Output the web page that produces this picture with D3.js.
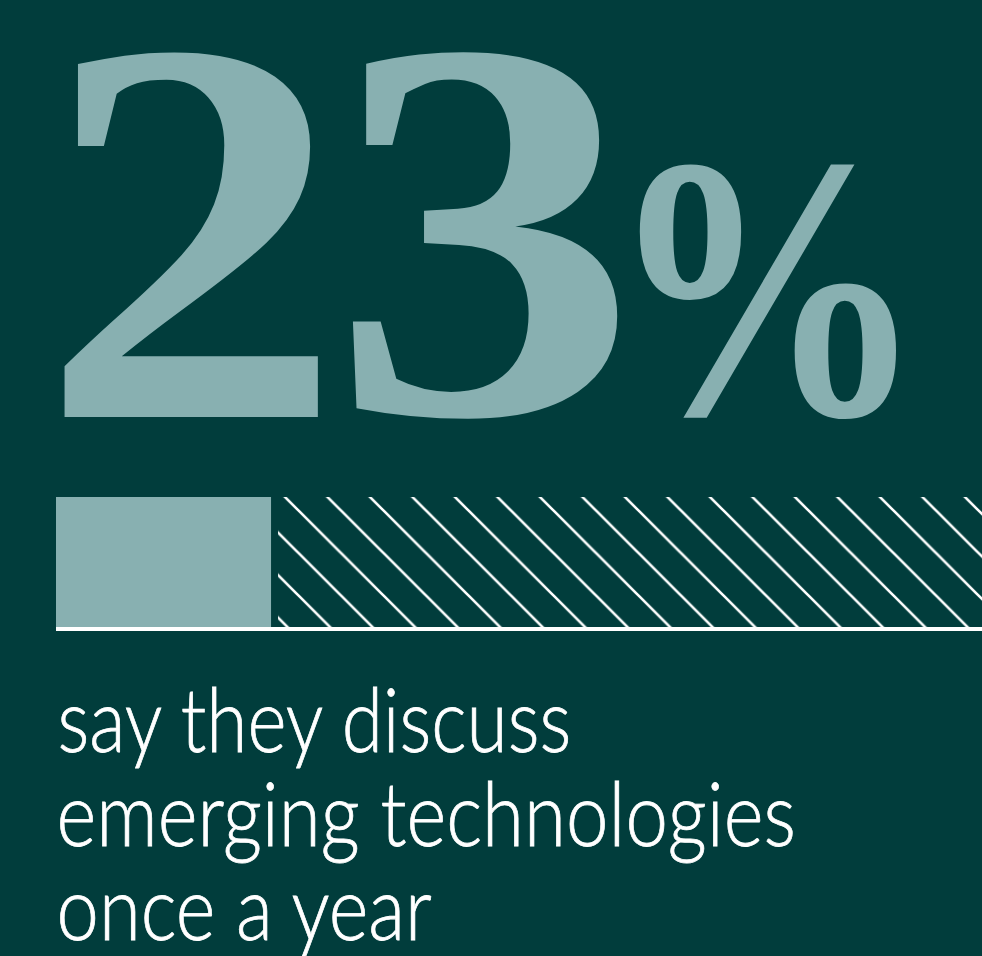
<!DOCTYPE html>
<html>
<head>
<meta charset="utf-8">
<script src="https://cdn.jsdelivr.net/npm/d3@7"></script>
<style>
  html, body { margin: 0; padding: 0; background: #013d3c; }
  svg { display: block; }
</style>
</head>
<body>
<svg id="chart" width="982" height="956"></svg>
<script>
// Share of respondents (percent) and the whole it is measured against
const shareValue = [23];
const scaleMax = [100];
const captionLines = ["say they discuss", "emerging technologies", "once a year"];

const W = 982, H = 956;
const BG = "#013d3c", ACCENT = "#88b0b1", WHITE = "#ffffff";

const svg = d3.select("#chart");
svg.append("rect").attr("width", W).attr("height", H).attr("fill", BG);

// Canvas context used to read ink bounds of glyphs for fitting
const ctx = document.createElement("canvas").getContext("2d");
function ink(str, font) {
  ctx.font = font;
  const m = ctx.measureText(str);
  return { left: -m.actualBoundingBoxLeft, right: m.actualBoundingBoxRight,
           top: -m.actualBoundingBoxAscent, bottom: m.actualBoundingBoxDescent };
}

// ---- Headline figure, built from the value ----
const headline = `${shareValue[0]}%`;
const serifFamily = "'Liberation Serif', 'DejaVu Serif', serif";
const baseSize = 400;
const glyphBoxes = [ // ink boxes for each glyph of the headline
  { x0: 58, x1: 325, y0: 47, y1: 417 },
  { x0: 349, x1: 619, y0: 47, y1: 422 },
  { x0: 637, x1: 896, y0: 162, y1: 420 }
];
const headG = svg.append("g").attr("class", "headline");
Array.from(headline).forEach((ch, i) => {
  const b = glyphBoxes[i];
  const m = ink(ch, `bold ${baseSize}px ${serifFamily}`);
  const sx = (b.x1 - b.x0) / (m.right - m.left);
  const sy = (b.y1 - b.y0) / (m.bottom - m.top);
  const tx = b.x0 - m.left * sx, ty = b.y0 - m.top * sy;
  headG.append("text")
    .attr("transform", `translate(${tx},${ty}) scale(${sx},${sy})`)
    .attr("font-family", serifFamily)
    .attr("font-weight", "bold")
    .attr("font-size", baseSize)
    .attr("fill", ACCENT)
    .text(ch);
});

// ---- Bar ----
const x = d3.scaleLinear().domain([0, scaleMax[0]]).range([56, 991]);
const barTop = 497, barBottom = 628;

const defs = svg.append("defs");
const step = 42.5;
const pat = defs.append("pattern")
  .attr("id", "hatch")
  .attr("patternUnits", "userSpaceOnUse")
  .attr("x", 0.5).attr("y", 0)
  .attr("width", step).attr("height", step);
pat.append("path")
  .attr("d", `M0,0L${step},${step}M${-step/2},${step/2}L${step/2},${step*1.5}M${step/2},${-step/2}L${step*1.5},${step/2}`)
  .attr("stroke", WHITE).attr("stroke-width", 2.6).attr("fill", "none");

// remainder of the whole, hatched
svg.append("rect")
  .attr("x", x(shareValue[0]) + 7)
  .attr("y", barTop)
  .attr("width", x(scaleMax[0]) - x(shareValue[0]) - 7)
  .attr("height", barBottom - barTop)
  .attr("fill", "url(#hatch)");

// the share itself, solid
svg.append("rect")
  .attr("x", x(0))
  .attr("y", barTop)
  .attr("width", x(shareValue[0]) - x(0))
  .attr("height", barBottom - barTop)
  .attr("fill", ACCENT);

// baseline
svg.append("line")
  .attr("x1", x(0)).attr("x2", W)
  .attr("y1", 629).attr("y2", 629)
  .attr("stroke", WHITE).attr("stroke-width", 3.8);

// ---- Caption ----
const sansFamily = "Lato, 'Open Sans', 'Noto Sans', sans-serif";
const capWeight = 300;
const xm = ink("x", `${capWeight} 100px ${sansFamily}`);
const capSize = 44 / (-xm.top) * 100;
const captionRight = [572, 793, 433];
const captionBase = [752, 846, 940];
const capLeft = 60;
const capG = svg.append("g").attr("class", "caption");
captionLines.forEach((line, i) => {
  const m = ink(line, `${capWeight} ${capSize}px ${sansFamily}`);
  const sx = (captionRight[i] - capLeft) / (m.right - m.left);
  const tx = capLeft - m.left * sx;
  capG.append("text")
    .attr("transform", `translate(${tx},${captionBase[i]}) scale(${sx},1)`)
    .attr("font-family", sansFamily)
    .attr("font-weight", capWeight)
    .attr("font-size", capSize)
    .attr("fill", WHITE)
    .attr("stroke", WHITE)
    .attr("stroke-width", 0.8)
    .text(line);
});
</script>
</body>
</html>
